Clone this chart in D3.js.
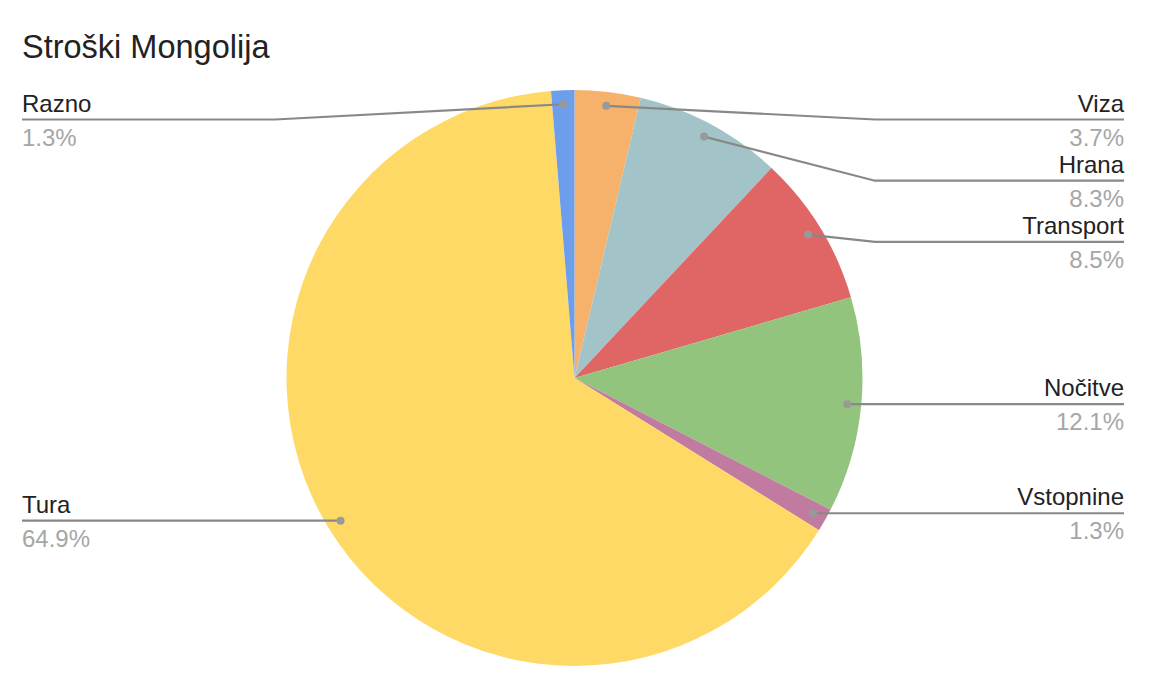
<!DOCTYPE html>
<html>
<head>
<meta charset="utf-8">
<script src="https://cdn.jsdelivr.net/npm/d3@7"></script>
<style>
  html, body { margin: 0; padding: 0; background: #fff; }
  svg { display: block; font-family: "Liberation Sans", Arial, Helvetica, sans-serif; }
</style>
</head>
<body>
<svg id="chart" width="1157" height="700"></svg>
<script>
// ---- data ----
const title = "Stroški Mongolija";
const categories = ["Viza", "Hrana", "Transport", "Nočitve", "Vstopnine", "Tura", "Razno"];
const values = [3.7, 8.3, 8.5, 12.1, 1.3, 64.9, 1.3];
const colors = ["#F6B26B", "#A2C4C9", "#E06666", "#93C47D", "#C27BA0", "#FFD966", "#6D9EEB"];

// ---- layout ----
const W = 1157, H = 700;
const cx = 574.5, cy = 378, R = 288;
const dotR = 274;
const rightX = 1124, leftX = 22;
const rightElbow = 875, leftElbow = 275;
const minLabelY = 119.5, labelGap = 61.2;

const svg = d3.select("#chart");

svg.append("text")
  .attr("x", 22).attr("y", 57.5)
  .attr("font-size", 32.5).attr("fill", "#222")
  .text(title);

const data = categories.map((c, i) => ({ name: c, value: values[i], color: colors[i] }));
const pie = d3.pie().sort(null).value(d => d.value);
const arcs = pie(data);
const arc = d3.arc().innerRadius(0).outerRadius(R);

const g = svg.append("g").attr("transform", `translate(${cx},${cy})`);
g.selectAll("path").data(arcs).join("path")
  .attr("d", arc)
  .attr("fill", d => d.data.color);

// label positions
const labels = arcs.map(a => {
  const mid = (a.startAngle + a.endAngle) / 2;
  const x = cx + dotR * Math.sin(mid);
  const y = cy - dotR * Math.cos(mid);
  return { a, mid, x, y, right: mid < Math.PI };
});
function place(list) {
  list.sort((p, q) => p.y - q.y);
  let prev = -Infinity;
  list.forEach(l => {
    l.ly = Math.max(l.y, minLabelY, prev + labelGap);
    prev = l.ly;
  });
}
place(labels.filter(l => l.right));
place(labels.filter(l => !l.right));

const fmt = d3.format(".1f");
const lg = svg.append("g");
labels.forEach(l => {
  const endX = l.right ? rightX : leftX;
  const elbowX = l.right ? rightElbow : leftElbow;
  const pts = Math.abs(l.ly - l.y) < 0.5
    ? [[l.x, l.y], [endX, l.ly]]
    : [[l.x, l.y], [elbowX, l.ly], [endX, l.ly]];
  lg.append("path")
    .attr("d", d3.line()(pts))
    .attr("fill", "none")
    .attr("stroke", "#888")
    .attr("stroke-width", 2.2);
  lg.append("circle")
    .attr("cx", l.x).attr("cy", l.y).attr("r", 4)
    .attr("fill", "#999");
  const anchor = l.right ? "end" : "start";
  lg.append("text")
    .attr("x", endX).attr("y", l.ly - 8)
    .attr("text-anchor", anchor)
    .attr("font-size", 24).attr("fill", "#222")
    .text(l.a.data.name);
  lg.append("text")
    .attr("x", endX).attr("y", l.ly + 26)
    .attr("text-anchor", anchor)
    .attr("font-size", 24).attr("fill", "#a6a6a6")
    .text(fmt(l.a.data.value) + "%");
});
</script>
</body>
</html>
